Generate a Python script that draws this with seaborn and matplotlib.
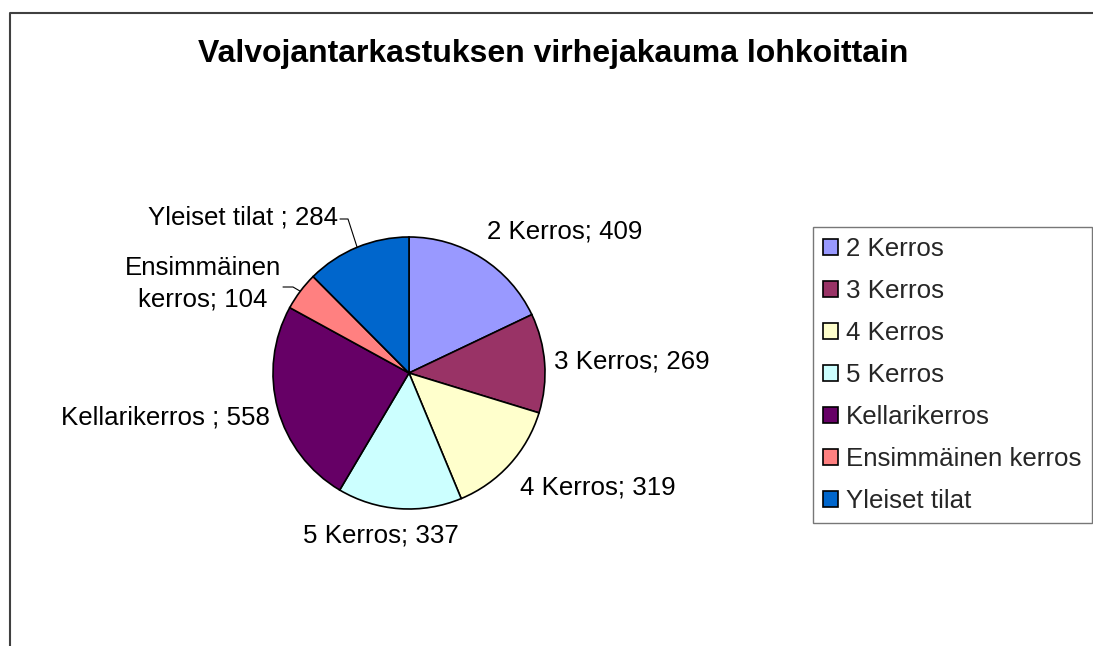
import numpy as np
import matplotlib
matplotlib.use("Agg")
import matplotlib.pyplot as plt
import seaborn as sns
from matplotlib.lines import Line2D
from matplotlib.patches import Patch

# ---- data ----
categories = ["2 Kerros", "3 Kerros", "4 Kerros", "5 Kerros",
              "Kellarikerros", "Ensimmäinen kerros", "Yleiset tilat"]
values = [409, 269, 319, 337, 558, 104, 284]
data_labels = ["2 Kerros; 409", "3 Kerros; 269", "4 Kerros; 319", "5 Kerros; 337",
               "Kellarikerros ; 558", "Ensimmäinen\nkerros; 104", "Yleiset tilat ; 284"]
colors = ["#9999FF", "#993366", "#FFFFCC", "#CCFFFF", "#660066", "#FF8080", "#0066CC"]
title = "Valvojantarkastuksen virhejakauma lohkoittain"

# ---- layout (pixels, from top-left) ----
W, H = 1093, 646
DPI = 100
pie_cx, pie_cy, pie_r = 409, 373, 136
# label anchors: (x, y, ha)
label_pos = [(565, 232, "center"), (554, 362, "left"), (520, 487, "left"),
             (303, 536, "left"), (270, 417, "right"), (203, 284, "center"),
             (338, 217, "right")]
leaders = {5: [(283, 287), (293, 287)], 6: [(340, 219), (348, 219)]}
FS = 18.6

sns.set_theme(style="white")
plt.rcParams["font.family"] = ["Liberation Sans", "DejaVu Sans"]

fig = plt.figure(figsize=(W / DPI, H / DPI), dpi=DPI)
fig.patch.set_facecolor("white")

def fx(x):
    return x / W

def fy(y):
    return 1 - y / H

ax = fig.add_axes([fx(pie_cx - pie_r), fy(pie_cy + pie_r), 2 * pie_r / W, 2 * pie_r / H])
wedges, _ = ax.pie(values, colors=colors, startangle=90, counterclock=False,
                   radius=1.0, wedgeprops=dict(edgecolor="black", linewidth=1.2))
ax.set_xlim(-1, 1)
ax.set_ylim(-1, 1)
ax.set_aspect("equal")
ax.axis("off")

# data labels
for i, (lab, (x, y, ha)) in enumerate(zip(data_labels, label_pos)):
    fig.text(fx(x), fy(y), lab, ha=ha, va="center", fontsize=FS, color="black",
             multialignment="center", linespacing=1.4)

# leader lines
total = sum(values)
cum = np.cumsum([0] + values)
for i, pts in leaders.items():
    mid = (cum[i] + cum[i + 1]) / 2 / total * 2 * np.pi
    ex, ey = np.sin(mid), np.cos(mid)
    disp = ax.transData.transform((ex, ey))
    fig_pt = fig.transFigure.inverted().transform(disp)
    xs = [fx(p[0]) for p in pts] + [fig_pt[0]]
    ys = [fy(p[1]) for p in pts] + [fig_pt[1]]
    fig.add_artist(Line2D(xs, ys, color="black", linewidth=0.8))

# title
fig.text(fx(553), fy(54), title, ha="center", va="center", fontsize=23,
         fontweight="bold", color="black")

# legend
handles = [Patch(facecolor=c, edgecolor="black", linewidth=1.2) for c in colors]
leg = fig.legend(handles, categories, loc="upper left",
                 bbox_to_anchor=(fx(813), fy(227)), borderaxespad=0,
                 fontsize=FS, frameon=True, fancybox=False,
                 handlelength=0.58, handleheight=0.58, handletextpad=0.33,
                 labelspacing=0.7, borderpad=0.38)
leg.get_frame().set_edgecolor("#555555")
leg.get_frame().set_linewidth(1.0)

# outer frame (left and top edges visible)
fig.add_artist(Line2D([fx(10), fx(10), fx(W + 5)], [fy(H + 5), fy(13), fy(13)],
                      color="#404040", linewidth=1.5))

fig.savefig("out.png", dpi=DPI, facecolor="white")
